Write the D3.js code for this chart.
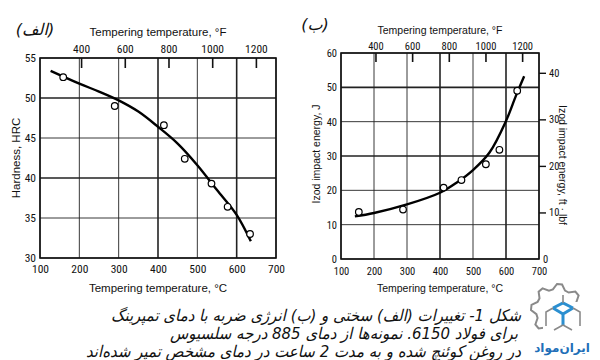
<!DOCTYPE html>
<html>
<head>
<meta charset="utf-8">
<script src="https://cdn.jsdelivr.net/npm/d3@7"></script>
<style>
  body { margin: 0; background: #fff; }
  svg { display: block; }
  .tick text { font-family: "Liberation Sans Narrow", "Roboto Condensed", "Liberation Sans", sans-serif; fill: #111; }
  .lbl { font-family: "Liberation Sans", Arial, sans-serif; fill: #111; }
  .cap { font-family: "DejaVu Sans", sans-serif; font-style: italic; fill: #111; }
</style>
</head>
<body>
<script>
const width = 600;
const height = 360;

// (a) hardness vs tempering temperature
const hardTempC = [159, 290, 415, 468, 536, 577, 634];
const hardHRC = [52.6, 49.0, 46.6, 42.4, 39.3, 36.4, 33.0];
const hardCurveC = [127, 200, 250, 300, 350, 400, 450, 500, 550, 600, 636];
const hardCurveHRC = [53.4, 51.8, 50.8, 49.7, 48.3, 46.4, 44.3, 41.6, 38.5, 35.4, 32.1];

// (b) izod impact energy vs tempering temperature
const impactTempC = [154, 288, 411, 465, 539, 580, 634];
const impactJ = [13.7, 14.4, 20.8, 23.0, 27.6, 31.8, 49.0];
const impactCurveC = [142, 200, 300, 400, 450, 500, 550, 600, 630, 655];
const impactCurveJ = [12.4, 13.4, 15.9, 19.3, 22.2, 25.9, 31.0, 40.2, 47.5, 53.2];

const tempTicksC = [100, 200, 300, 400, 500, 600, 700];
const tempTicksF = [400, 600, 800, 1000, 1200];
const hrcTicks = [30, 35, 40, 45, 50, 55];
const jTicks = [0, 10, 20, 30, 40, 50, 60];
const ftlbfTicks = [0, 10, 20, 30, 40];

const captionLines = [
    'شکل 1- تغییرات (الف) سختی و (ب) انرژی ضربه با دمای تمپرینگ',
    'برای فولاد 6150. نمونه‌ها از دمای 885 درجه سلسیوس',
    'در روغن کوئنچ شده و به مدت 2 ساعت در دمای مشخص تمپر شده‌اند'
];
const captionWidths = [410, 348, 435];

const JOULE_PER_FTLBF = 1.3558;
const cToF = c => c * 9 / 5 + 32;

const svg = d3.select('body')
    .append('svg')
    .attr('width', width)
    .attr('height', height);

function drawPanel(p) {
    const g = svg.append('g');
    const x = d3.scaleLinear().domain([100, 700]).range([p.left, p.right]);
    const xF = d3.scaleLinear().domain([cToF(100), cToF(700)]).range([p.left, p.right]);
    const y = d3.scaleLinear().domain(p.yDomain).range([p.bottom, p.top]);

    // grid
    g.selectAll('.vgrid')
        .data(tempTicksC)
        .enter()
        .append('line')
        .attr('x1', d => x(d)).attr('x2', d => x(d))
        .attr('y1', p.top).attr('y2', p.bottom)
        .attr('stroke', '#222')
        .attr('stroke-width', d => p.heavyX.includes(d) ? 1.6 : 0.9);
    g.selectAll('.hgrid')
        .data(p.yTicks)
        .enter()
        .append('line')
        .attr('x1', p.left).attr('x2', p.right)
        .attr('y1', d => y(d)).attr('y2', d => y(d))
        .attr('stroke', '#222')
        .attr('stroke-width', d => p.heavyY.includes(d) ? 1.6 : 0.9);

    g.append('rect')
        .attr('x', p.left).attr('y', p.top)
        .attr('width', p.right - p.left).attr('height', p.bottom - p.top)
        .attr('fill', 'none').attr('stroke', '#111').attr('stroke-width', 1.6);

    // axes
    const bottomAxis = g.append('g')
        .attr('transform', `translate(0,${p.bottom})`)
        .call(d3.axisBottom(x).tickValues(tempTicksC).tickSize(0).tickPadding(p.xPad));
    const leftAxis = g.append('g')
        .attr('transform', `translate(${p.left},0)`)
        .call(d3.axisLeft(y).tickValues(p.yTicks).tickSize(0).tickPadding(p.yPad));
    const topAxis = g.append('g')
        .attr('transform', `translate(0,${p.top})`)
        .call(d3.axisTop(xF).tickValues(tempTicksF).tickFormat(d3.format('d'))
            .tickSize(-p.topTick).tickPadding(p.topPad));
    [bottomAxis, leftAxis, topAxis].forEach(a => {
        a.select('.domain').remove();
        a.selectAll('text').attr('font-size', p.tickFont);
    });
    topAxis.selectAll('line').attr('stroke', '#111').attr('stroke-width', 1.6);

    if (p.ftlbf) {
        const yR = d3.scaleLinear()
            .domain([p.yDomain[0] / JOULE_PER_FTLBF, p.yDomain[1] / JOULE_PER_FTLBF])
            .range([p.bottom, p.top]);
        const rightAxis = g.append('g')
            .attr('transform', `translate(${p.right},0)`)
            .call(d3.axisRight(yR).tickValues(ftlbfTicks).tickSize(7).tickPadding(3));
        rightAxis.select('.domain').remove();
        rightAxis.selectAll('line').attr('stroke', '#111').attr('stroke-width', 1.4)
            .filter(d => d === 0).remove();
        rightAxis.selectAll('text').attr('font-size', p.tickFont);
        rightAxis.selectAll('.tick').filter(d => d === 0).select('text').attr('x', 4);
    }

    // fitted curve
    const line = d3.line()
        .x(d => x(d[0]))
        .y(d => y(d[1]))
        .curve(d3.curveCatmullRom.alpha(0.5));
    g.append('path')
        .datum(d3.zip(p.curveX, p.curveY))
        .attr('d', line)
        .attr('fill', 'none')
        .attr('stroke', '#000')
        .attr('stroke-width', 2.4);

    // measured points
    g.selectAll('circle')
        .data(d3.zip(p.ptX, p.ptY))
        .enter()
        .append('circle')
        .attr('cx', d => x(d[0]))
        .attr('cy', d => y(d[1]))
        .attr('r', 3.3)
        .attr('fill', '#fff')
        .attr('stroke', '#000')
        .attr('stroke-width', 1.2);

    // axis titles
    const mid = (p.left + p.right) / 2;
    g.append('text').attr('class', 'lbl')
        .attr('x', mid).attr('y', p.topTitleY)
        .attr('text-anchor', 'middle').attr('font-size', p.titleFont)
        .text('Tempering temperature, °F');
    g.append('text').attr('class', 'lbl')
        .attr('x', mid).attr('y', p.bottomTitleY)
        .attr('text-anchor', 'middle').attr('font-size', p.titleFont)
        .text('Tempering temperature, °C');
    g.append('text').attr('class', 'lbl')
        .attr('transform', `translate(${p.yTitleX},${p.yTitleY}) rotate(-90)`)
        .attr('text-anchor', 'middle').attr('font-size', p.titleFont)
        .text(p.yTitle);
    if (p.ftlbf) {
        g.append('text').attr('class', 'lbl')
            .attr('transform', `translate(${p.rTitleX},${p.rTitleY}) rotate(90)`)
            .attr('text-anchor', 'middle').attr('font-size', p.titleFont)
            .text('Izod impact energy, ft · lbf');
    }
    g.append('text').attr('class', 'cap')
        .attr('x', p.tagX).attr('y', p.tagY)
        .attr('text-anchor', 'middle').attr('font-size', 16)
        .attr('direction', 'rtl')
        .text(p.tag);
}

drawPanel({
    left: 40, right: 276, top: 58, bottom: 258,
    yDomain: [30, 55], yTicks: hrcTicks,
    heavyX: [400, 600], heavyY: [40, 50],
    curveX: hardCurveC, curveY: hardCurveHRC,
    ptX: hardTempC, ptY: hardHRC,
    tickFont: 11.5, titleFont: 11.5, xPad: 7, yPad: 4, topTick: 10, topPad: 5,
    topTitleY: 36, bottomTitleY: 292,
    yTitleX: 20, yTitleY: 158, yTitle: 'Hardness, HRC',
    tag: '(الف)', tagX: 35, tagY: 35
});

drawPanel({
    left: 341, right: 539, top: 53, bottom: 259,
    yDomain: [0, 60], yTicks: jTicks,
    heavyX: [400, 600], heavyY: [30, 50],
    curveX: impactCurveC, curveY: impactCurveJ,
    ptX: impactTempC, ptY: impactJ,
    tickFont: 10.5, titleFont: 10.5, xPad: 9, yPad: 4, topTick: 9, topPad: 3,
    topTitleY: 34, bottomTitleY: 292,
    yTitleX: 320, yTitleY: 154, yTitle: 'Izod impact energy, J',
    ftlbf: true, rTitleX: 559, rTitleY: 165,
    tag: '(ب)', tagX: 315, tagY: 30
});

// caption
svg.selectAll('.capline')
    .data(captionLines)
    .enter()
    .append('text')
    .attr('class', 'cap')
    .attr('x', (d, i) => i === 1 ? 518 : 521)
    .attr('y', (d, i) => 321 + i * 18)
    .attr('font-size', 16)
    .attr('direction', 'rtl')
    .attr('text-anchor', 'start')
    .attr('textLength', (d, i) => captionWidths[i])
    .attr('lengthAdjust', 'spacingAndGlyphs')
    .text(d => d);

// logo
const logo = svg.append('g').attr('transform', 'translate(557,310)');
const teeth = 8;
const gearPts = [];
for (let i = 0; i < teeth * 4; i++) {
    const a = (i / (teeth * 4)) * 2 * Math.PI - Math.PI / 2;
    const r = (i % 4 === 0 || i % 4 === 1) ? 26 : 21;
    gearPts.push([Math.cos(a) * r, Math.sin(a) * r]);
}
logo.append('path')
    .attr('d', d3.line().curve(d3.curveLinearClosed)(gearPts))
    .attr('fill', 'none').attr('stroke', '#8a8a8a').attr('stroke-width', 2);
logo.append('rect').attr('x', -14).attr('y', -8).attr('width', 44).attr('height', 40).attr('fill', '#fff');
const cube = logo.append('g').attr('transform', 'translate(6,4)')
    .attr('stroke', '#2b8fd0').attr('stroke-width', 3).attr('fill', 'none');
cube.append('path').attr('d', 'M-10,-6 L0,-11 L10,-6 M-10,-6 L0,0 L10,-6 M0,0 L0,11');
const grey = logo.append('g').attr('transform', 'translate(6,4)')
    .attr('stroke', '#8a8a8a').attr('stroke-width', 1.6).attr('fill', 'none');
grey.append('path').attr('d', 'M0,-11 L0,-19 M-10,-6 L-17,-2 L-17,12 M10,-6 L17,-2 L17,12 M0,11 L-9,16 M0,11 L9,16');
logo.append('text')
    .attr('x', 5).attr('y', 42)
    .attr('text-anchor', 'middle')
    .attr('font-family', 'DejaVu Sans, sans-serif')
    .attr('font-weight', 'bold')
    .attr('font-size', 12)
    .attr('fill', '#1f6fb8')
    .attr('direction', 'rtl')
    .text('ایران‌مواد');
</script>
</body>
</html>
